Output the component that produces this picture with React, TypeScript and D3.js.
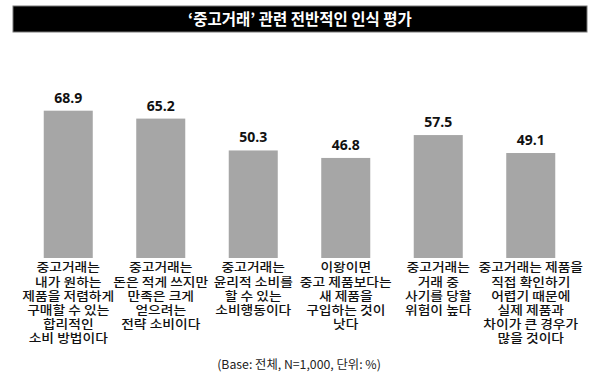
import React from "react";
import * as d3 from "d3";

const title = "‘중고거래’ 관련 전반적인 인식 평가";
const categories = [
  ["중고거래는", "내가 원하는", "제품을 저렴하게", "구매할 수 있는", "합리적인", "소비 방법이다"],
  ["중고거래는", "돈은 적게 쓰지만", "만족은 크게", "얻으려는", "전략 소비이다"],
  ["중고거래는", "윤리적 소비를", "할 수 있는", "소비행동이다"],
  ["이왕이면", "중고 제품보다는", "새 제품을", "구입하는 것이", "낫다"],
  ["중고거래는", "거래 중", "사기를 당할", "위험이 높다"],
  ["중고거래는 제품을", "직접 확인하기", "어렵기 때문에", "실제 제품과", "차이가 큰 경우가", "많을 것이다"],
];
const values = [68.9, 65.2, 50.3, 46.8, 57.5, 49.1];
const footnote = "(Base: 전체, N=1,000, 단위: %)";

const W = 600;
const H = 384;
const FONT = "'Noto Sans CJK KR', 'Noto Sans', sans-serif";

export default function App() {
  const x = d3
    .scaleBand<number>()
    .domain(d3.range(values.length))
    .range([22, 577])
    .paddingInner(0.47)
    .paddingOuter(0.235);
  const y = d3.scaleLinear().domain([0, 100]).range([258, 44.2]);

  return (
    <svg
      width={W}
      height={H}
      style={{ position: "absolute", left: 0, top: 0, background: "#fff" }}
      fontFamily={FONT}
    >
      <rect x={13} y={6} width={574} height={26} fill="#000" stroke="#777" strokeWidth={1} />
      <text x={300} y={24.5} textAnchor="middle" fill="#fff" fontSize={15.5} fontWeight={700}>
        {title}
      </text>
      {values.map((v, i) => {
        const bx = x(i)!;
        const cx = bx + x.bandwidth() / 2;
        return (
          <g key={i}>
            <rect x={bx} y={y(v)} width={x.bandwidth()} height={y(0) - y(v)} fill="#a6a6a6" />
            <text
              x={cx}
              y={y(v) - 8}
              textAnchor="middle"
              fontSize={14}
              fontWeight={700}
              fill="#111"
              fontFamily="'Open Sans', 'Noto Sans', sans-serif"
            >
              {d3.format(".1f")(v)}
            </text>
            <g transform={`translate(${cx},0) scale(1.13,1)`}>
              <text textAnchor="middle" fontSize={12.2} fontWeight={500} fill="#111">
                {categories[i].map((line, j) => (
                  <tspan key={j} x={0} y={272.5 + j * 14.2}>
                    {line}
                  </tspan>
                ))}
              </text>
            </g>
          </g>
        );
      })}
      <text x={299} y={369} textAnchor="middle" fontSize={12.3} fill="#222">
        {footnote}
      </text>
    </svg>
  );
}
